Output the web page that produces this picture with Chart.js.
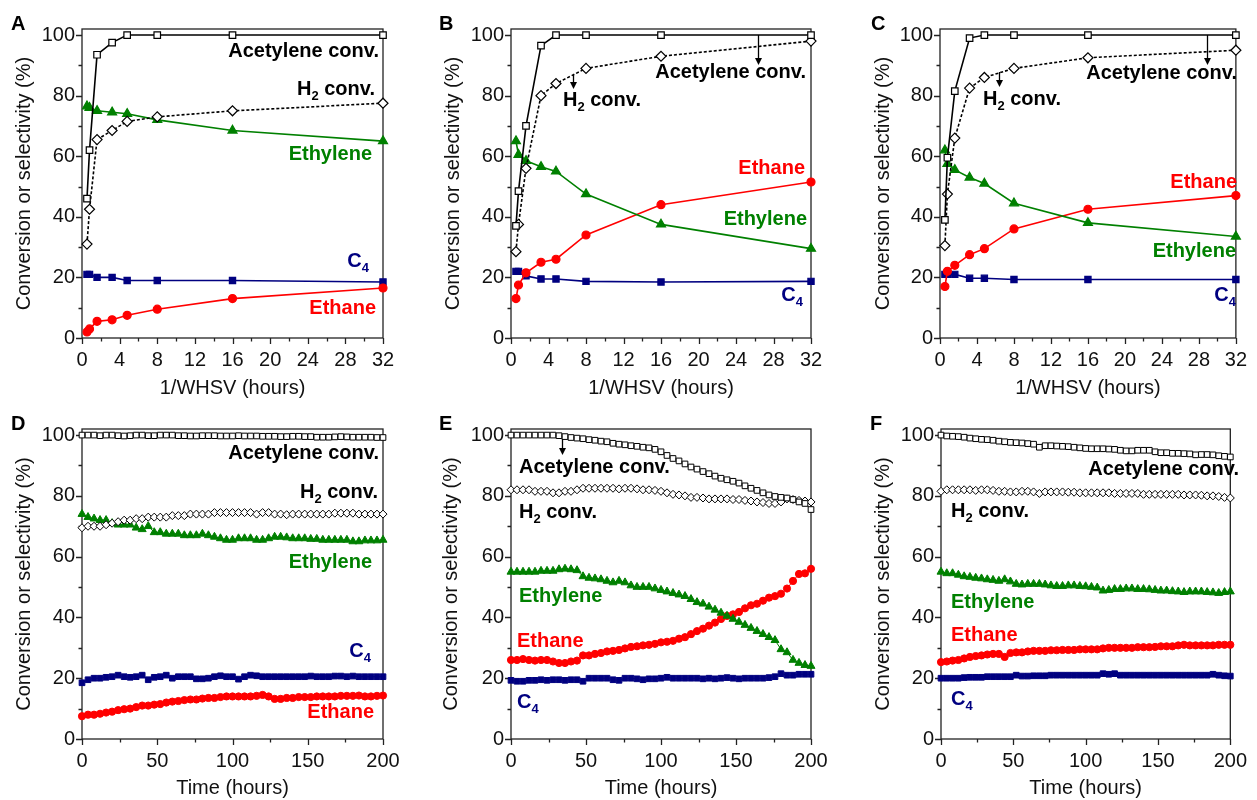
<!DOCTYPE html>
<html>
<head>
<meta charset="utf-8">
<script src="https://cdn.jsdelivr.net/npm/chart.js@4.4.1/dist/chart.umd.min.js"></script>
<style>
  body { margin: 0; background: #fff; width: 1257px; height: 800px; position: relative; overflow: hidden; }
  canvas { position: absolute; }
</style>
</head>
<body>
<canvas id="pA" width="420" height="400" style="left:0;top:0"></canvas>
<canvas id="pB" width="420" height="400" style="left:420px;top:0"></canvas>
<canvas id="pC" width="417" height="400" style="left:840px;top:0"></canvas>
<canvas id="pD" width="420" height="400" style="left:0;top:400px"></canvas>
<canvas id="pE" width="420" height="400" style="left:420px;top:400px"></canvas>
<canvas id="pF" width="417" height="400" style="left:840px;top:400px"></canvas>
<script>
// ---- data: 1/WHSV series (panels A-C)
const whsv = [0.53, 0.8, 1.6, 3.2, 4.8, 8, 16, 32];

const acetA = [46, 62, 93.5, 97.5, 100, 100, 100, 100];
const h2A = [31, 42.5, 65.5, 68.5, 71.5, 73, 75, 77.5];
const ethyA = [76.5, 76, 75, 74.5, 74, 72, 68.5, 65];
const ethaA = [2, 3, 5.5, 6, 7.5, 9.5, 13, 16.5];
const c4A = [21, 21, 20, 20, 19, 19, 19, 18.5];

const acetB = [37, 48.5, 70, 96.5, 100, 100, 100, 100];
const h2B = [28.5, 37.5, 56, 80, 84, 89, 93, 98];
const ethyB = [65, 60.5, 58.5, 56.5, 55, 47.5, 37.5, 29.5];
const ethaB = [13, 17.5, 21.5, 25, 26, 34, 44, 51.5];
const c4B = [22, 22, 20.5, 19.5, 19.5, 18.7, 18.5, 18.7];

const acetC = [39, 59.5, 81.5, 99, 100, 100, 100, 100];
const h2C = [30.5, 47.5, 66, 82.5, 86, 89, 92.5, 95];
const ethyC = [62, 57.5, 55.5, 53, 51, 44.5, 38, 33.5];
const ethaC = [17, 22, 24, 27.5, 29.5, 36, 42.5, 47];
const c4C = [21, 21, 21, 19.7, 19.7, 19.3, 19.3, 19.3];

// ---- data: time on stream (panels D-F), hours
const hours = [0, 4, 8, 12, 16, 20, 24, 28, 32, 36,
  40, 44, 48, 52, 56, 60, 64, 68, 72, 76,
  80, 84, 88, 92, 96, 100, 104, 108, 112, 116,
  120, 124, 128, 132, 136, 140, 144, 148, 152, 156,
  160, 164, 168, 172, 176, 180, 184, 188, 192, 196, 200];

const acetD = [100, 100, 100, 99.8, 100, 100, 99.8, 99.7, 99.8, 100,
  100, 99.8, 99.8, 100, 100, 100, 99.8, 99.8, 99.7, 99.7,
  99.8, 99.8, 99.8, 99.7, 99.7, 99.7, 99.8, 99.7, 99.7, 99.7,
  99.6, 99.6, 99.6, 99.5, 99.5, 99.6, 99.6, 99.5, 99.5, 99.3,
  99.3, 99.3, 99.4, 99.5, 99.4, 99.3, 99.3, 99.3, 99.3, 99.2, 99.2];
const h2D = [69.5, 70, 70, 70, 70.5, 71, 71.5, 72, 72, 72.5,
  72.5, 73, 73, 73, 73, 73.5, 73.5, 73.5, 74, 74,
  74, 74, 74.5, 74.5, 74.5, 74.5, 74.5, 74.5, 74.5, 74,
  74.5, 74.5, 74, 74, 73.8, 74, 74, 74, 74, 74,
  74, 74, 74.3, 74.3, 74.3, 74.3, 74, 74, 74, 74, 74];
const ethyD = [74, 73, 72.5, 72, 72, 71, 70.5, 70.5, 70.5, 69.5,
  69, 70, 68, 68, 67.5, 67.5, 67.5, 67, 67, 67,
  67.5, 67, 66.5, 66, 65.5, 65.5, 66, 66, 66, 65.5,
  65.5, 66, 66.5, 66.5, 66.3, 66, 66, 66, 65.8, 65.8,
  65.5, 65.5, 65.5, 65.5, 65.5, 65, 65, 65.3, 65.3, 65.3, 65.5];
const ethaD = [7.5, 8, 8, 8.3, 8.7, 9, 9.5, 9.8, 10, 10.5,
  11, 11, 11.3, 11.5, 12, 12.3, 12.5, 12.8, 13, 13,
  13.3, 13.5, 13.5, 13.8, 14, 14, 14, 14, 14, 14.2,
  14.5, 14, 13.2, 13.2, 13.5, 13.5, 13.8, 13.8, 13.8, 14,
  14, 14, 14, 14.2, 14.2, 14.2, 14.3, 14, 14, 14.2, 14.3];
const c4D = [18.5, 19.5, 20, 20, 20.3, 20.5, 21, 20.5, 20.3, 20.5,
  21, 19.5, 20.3, 20.5, 21, 20, 20.5, 20.5, 20.5, 19.8,
  19.8, 20, 20.5, 20.8, 20.5, 20.5, 19.7, 20.5, 21, 20.8,
  20.5, 20.5, 20.5, 20.5, 20.5, 20.5, 20.5, 20.5, 20.7, 20.5,
  20.5, 20.5, 20.7, 20.7, 20.5, 20.7, 20.5, 20.5, 20.5, 20.5, 20.5];

const acetE = [100, 100, 100, 100, 100, 100, 100, 100, 99.8, 99.5,
  99.2, 99, 98.8, 98.5, 98.3, 98, 97.8, 97.3, 97, 96.8,
  96.5, 96.3, 96, 95.8, 95.3, 94.5, 93.3, 92.3, 91.5, 90.5,
  89.5, 88.8, 88, 87.3, 86.5, 85.8, 85.3, 84.8, 84.2, 83.3,
  82.5, 81.8, 81, 80.3, 79.8, 79.5, 79.3, 78.8, 78, 77.5, 75.5];
const h2E = [82, 82, 82, 82, 81.5, 81.5, 81.5, 81, 81, 81.5,
  81.5, 82, 82.5, 82.5, 82.5, 82.5, 82.5, 82.5, 82.3, 82.5,
  82.5, 82.3, 82, 82, 81.8, 81.5, 81, 80.5, 80.3, 80,
  79.5, 79.5, 79.3, 79, 79, 79, 79, 78.8, 78.8, 78.5,
  78.3, 78, 77.8, 77.5, 77.5, 78, 79, 78.8, 78.5, 78.3, 78];
const ethyE = [55, 55, 55, 55, 55, 55.3, 55.3, 55.3, 55.8, 56,
  55.8, 55.5, 53.5, 53, 52.8, 52.5, 52, 51.5, 52, 51.5,
  50.5, 50, 50, 50, 49.5, 49, 48.5, 48, 47.5, 47,
  46, 45, 44.5, 43.5, 42.5, 41.5, 40.5, 39.5, 38.5, 37.5,
  36.5, 35.5, 34.5, 33.5, 32.5, 29.5, 28.5, 26, 25, 24.3, 24];
const ethaE = [26, 26, 26.3, 26, 25.8, 26, 26, 25.5, 25, 25,
  25.5, 25.8, 27.5, 27.5, 28, 28.3, 28.8, 29, 29.3, 29.8,
  30.3, 30.5, 30.8, 31, 31.3, 31.8, 32, 32.3, 33, 33.5,
  34.5, 35.5, 36.3, 37.3, 38.3, 39.5, 40.5, 41, 41.8, 43,
  44, 44.5, 45.5, 46.5, 47, 47.8, 49.5, 52, 54.3, 54.5, 56];
const c4E = [19.3, 19, 19, 19.3, 19.3, 19.5, 19.3, 19.5, 19.5, 19.3,
  19.5, 19.5, 19, 20, 20, 20, 20, 19.5, 19.3, 20,
  20, 19.8, 19.5, 19.8, 19.8, 20, 20.3, 20, 20, 20,
  20, 20, 19.8, 20, 19.8, 20, 20.2, 20, 19.8, 20,
  20, 20, 20, 20.2, 20.5, 21.5, 21, 21, 21.3, 21.3, 21.3];

const acetF = [100, 99.7, 99.6, 99.5, 99.3, 99, 98.8, 98.6, 98.5, 98.3,
  98, 97.8, 97.6, 97.5, 97.4, 97.2, 97, 96, 96.5, 96.5,
  96.4, 96.3, 96.2, 96, 95.8, 95.6, 95.5, 95.5, 95.5, 95.4,
  95.3, 95, 94.8, 94.8, 95, 95, 95, 94.5, 94.2, 94.2,
  94, 94, 93.9, 93.8, 93.5, 93.6, 93.6, 93.5, 93.2, 93, 92.8];
const h2F = [81.5, 82, 82, 82, 82, 82, 81.8, 82, 82, 81.8,
  81.5, 81.5, 81.3, 81.3, 81.5, 81.5, 81.3, 80.8, 81.3, 81.3,
  81.3, 81.3, 81.2, 81.2, 81, 81, 81, 81, 81, 81,
  80.8, 80.8, 80.8, 80.8, 80.8, 80.5, 80.5, 80.5, 80.5, 80.5,
  80.5, 80.5, 80.3, 80.3, 80.3, 80.2, 80, 80, 79.8, 79.5, 79.3];
const ethyF = [55, 54.5, 54.5, 54, 53.5, 53.3, 53, 52.8, 52.5, 52.3,
  52, 52.5, 51.8, 51, 50.8, 51, 51, 51, 50.8, 50.5,
  50.3, 50.3, 50.5, 50.5, 50.3, 50.2, 50, 49.8, 48.8, 49,
  49.3, 49.3, 49.5, 49.5, 49.3, 49.3, 49.2, 49, 48.8, 48.8,
  48.6, 48.5, 48.3, 48.5, 48.5, 48.5, 48.3, 48.2, 48, 48.3, 48.5];
const ethaF = [25.3, 25.5, 25.8, 26, 26.5, 27, 27.3, 27.5, 27.8, 28,
  28, 27, 28.3, 28.5, 28.5, 28.8, 29, 29, 29, 29.2,
  29.2, 29.3, 29.3, 29.3, 29.5, 29.5, 29.5, 29.5, 29.8, 30,
  30, 30, 30, 30, 30.2, 30.2, 30.2, 30.3, 30.5, 30.5,
  30.5, 30.8, 31, 30.8, 30.8, 30.8, 30.8, 30.8, 31, 31, 31];
const c4F = [20, 20, 20, 20, 20.2, 20.3, 20.3, 20.3, 20.5, 20.5,
  20.5, 20.5, 20.5, 21, 20.7, 20.7, 20.8, 20.8, 20.8, 21,
  21, 21, 21, 21, 21, 21, 21, 21, 21.5, 21.3,
  21.5, 21, 21, 21, 21, 21, 21, 21, 21, 21,
  21, 21, 21, 21, 21, 21, 21, 21.3, 21, 20.8, 20.7];

const yTicks = [0, 10, 20, 30, 40, 50, 60, 70, 80, 90, 100];
const whsvTicks = [0, 2, 4, 6, 8, 10, 12, 14, 16, 18, 20, 22, 24, 26, 28, 30, 32];
const hourTicks = [0, 25, 50, 75, 100, 125, 150, 175, 200];

const GREEN = '#008000', RED = '#ff0000', NAVY = '#000080', INK = '#111';
const FONT = '"Liberation Sans", Arial, sans-serif';

// marker styles per species; size differs between top and bottom rows
function style(kind, dense) {
  const base = { borderWidth: dense ? 1 : 1.6, pointBorderWidth: dense ? 1 : 1.2, clip: false, tension: 0 };
  if (kind === 'acet') return Object.assign(base, { borderColor: '#000', pointStyle: 'rect', pointRadius: dense ? 4 : 4.6, pointBackgroundColor: '#fff', pointBorderColor: '#000' });
  if (kind === 'h2') return Object.assign(base, { borderColor: '#000', borderDash: [3, 2], pointStyle: 'rectRot', pointRadius: dense ? 4 : 5, pointBackgroundColor: '#fff', pointBorderColor: '#000' });
  if (kind === 'ethy') return Object.assign(base, { borderColor: GREEN, pointStyle: 'triangle', pointRadius: dense ? 4.6 : 5.2, pointBackgroundColor: GREEN, pointBorderColor: GREEN });
  if (kind === 'etha') return Object.assign(base, { borderColor: RED, pointStyle: 'circle', pointRadius: dense ? 3.6 : 4, pointBackgroundColor: RED, pointBorderColor: RED });
  return Object.assign(base, { borderColor: NAVY, pointStyle: 'rect', pointRadius: dense ? 4 : 4.4, pointBackgroundColor: NAVY, pointBorderColor: NAVY });
}

function drawRich(ctx, s, x, y, align, color) {
  const parts = s.split(/(_.)/).filter(p => p).map(p => (p[0] === '_' && p.length === 2) ? { t: p[1], sub: true } : { t: p, sub: false });
  let w = 0;
  parts.forEach(p => { ctx.font = (p.sub ? 'bold 13px ' : 'bold 20px ') + FONT; p.w = ctx.measureText(p.t).width; w += p.w; });
  let cx = align === 'right' ? x - w : x;
  ctx.fillStyle = color;
  ctx.textAlign = 'left';
  ctx.textBaseline = 'middle';
  parts.forEach(p => {
    ctx.font = (p.sub ? 'bold 13px ' : 'bold 20px ') + FONT;
    ctx.fillText(p.t, cx, p.sub ? y + 7 : y);
    cx += p.w;
  });
}

// frame, tick marks, panel letter, text labels, arrows
const decor = {
  id: 'decor',
  beforeDatasetsDraw(chart) {
    const { ctx, chartArea: a, scales } = chart;
    ctx.save();
    ctx.strokeStyle = '#222';
    ctx.lineWidth = 1.3;
    ctx.strokeRect(a.left, a.top, a.right - a.left, a.bottom - a.top);
    ctx.beginPath();
    scales.y.ticks.forEach(t => {
      const py = Math.round(scales.y.getPixelForValue(t.value)) + 0.5;
      const len = t.value % 20 === 0 ? 6 : 3.5;
      ctx.moveTo(a.left - len, py); ctx.lineTo(a.left, py);
    });
    const major = chart.options.plugins.decor.major;
    scales.x.ticks.forEach(t => {
      const px = Math.round(scales.x.getPixelForValue(t.value)) + 0.5;
      const len = t.value % major === 0 ? 6 : 3.5;
      ctx.moveTo(px, a.bottom); ctx.lineTo(px, a.bottom + len);
    });
    ctx.stroke();
    ctx.restore();
  },
  afterDraw(chart) {
    const o = chart.options.plugins.decor;
    const ctx = chart.ctx;
    ctx.save();
    ctx.fillStyle = '#000';
    ctx.font = 'bold 20px ' + FONT;
    ctx.textAlign = 'left';
    ctx.textBaseline = 'alphabetic';
    ctx.fillText(o.letter, o.lx, 30);
    o.notes.forEach(n => drawRich(ctx, n[0], n[1], n[2], n[3], n[4]));
    ctx.strokeStyle = '#000';
    ctx.fillStyle = '#000';
    ctx.lineWidth = 1.3;
    o.arrows.forEach(r => {
      ctx.beginPath(); ctx.moveTo(r[0] + 0.5, r[1]); ctx.lineTo(r[0] + 0.5, r[2] - 5); ctx.stroke();
      ctx.beginPath(); ctx.moveTo(r[0] - 3, r[2] - 7); ctx.lineTo(r[0] + 4, r[2] - 7); ctx.lineTo(r[0] + 0.5, r[2]); ctx.closePath(); ctx.fill();
    });
    ctx.restore();
  }
};

function makePanel(p) {
  const dense = p.xs === hours;
  const kinds = ['acet', 'h2', 'ethy', 'etha', 'c4'];
  const datasets = p.series.map((vals, i) => Object.assign({
    label: kinds[i],
    data: p.xs.map((x, j) => ({ x: x, y: vals[j] }))
  }, style(kinds[i], dense)));
  const xt = dense ? hourTicks : whsvTicks;
  const major = dense ? 50 : 4;
  new Chart(document.getElementById(p.id), {
    type: 'line',
    data: { datasets },
    plugins: [decor],
    options: {
      responsive: false,
      animation: false,
      events: [],
      layout: { padding: { left: 0, right: p.R, top: 29, bottom: 0 } },
      plugins: {
        legend: { display: false },
        tooltip: { enabled: false },
        decor: { letter: p.letter, lx: p.lx, notes: p.notes, arrows: p.arrows, major: major }
      },
      scales: {
        x: {
          type: 'linear', min: 0, max: dense ? 200 : 32,
          afterBuildTicks: s => { s.ticks = xt.map(v => ({ value: v })); },
          afterFit: s => { s.height = 400 - p.bottom; },
          grid: { display: false, drawTicks: false },
          border: { display: false },
          ticks: { autoSkip: false, maxRotation: 0, padding: 10, color: INK, font: { family: FONT, size: 20 },
            callback: v => (v % major === 0 ? v : '') },
          title: { display: true, text: dense ? 'Time (hours)' : '1/WHSV (hours)', color: INK,
            font: { family: FONT, size: 20 }, padding: { top: 0, bottom: 0 } }
        },
        y: {
          type: 'linear', min: 0, max: 102,
          afterBuildTicks: s => { s.ticks = yTicks.map(v => ({ value: v })); },
          afterFit: s => { s.width = p.L; },
          grid: { display: false, drawTicks: false },
          border: { display: false },
          ticks: { autoSkip: false, padding: 7, color: INK, font: { family: FONT, size: 20 },
            callback: v => (v % 20 === 0 ? v : '') },
          title: { display: true, text: 'Conversion or selectivity (%)', color: INK,
            font: { family: FONT, size: 20 }, padding: { top: p.yt, bottom: 0 } }
        }
      }
    }
  });
}

const H2 = 'H_2 conv.', C4 = 'C_4';
makePanel({ id: 'pA', letter: 'A', lx: 11, xs: whsv, series: [acetA, h2A, ethyA, ethaA, c4A], L: 82, R: 37, bottom: 338, yt: 12,
  notes: [['Acetylene conv.', 379, 51, 'right', '#000'], [H2, 375, 89, 'right', '#000'], ['Ethylene', 372, 154, 'right', GREEN],
    [C4, 369, 261, 'right', NAVY], ['Ethane', 376, 308, 'right', RED]], arrows: [] });
makePanel({ id: 'pB', letter: 'B', lx: 19, xs: whsv, series: [acetB, h2B, ethyB, ethaB, c4B], L: 91, R: 29, bottom: 338, yt: 21,
  notes: [['Acetylene conv.', 386, 72, 'right', '#000'], [H2, 143, 100, 'left', '#000'], ['Ethane', 385, 168, 'right', RED],
    ['Ethylene', 387, 219, 'right', GREEN], [C4, 383, 295, 'right', NAVY]], arrows: [[338, 35, 65], [153, 75, 89]] });
makePanel({ id: 'pC', letter: 'C', lx: 31, xs: whsv, series: [acetC, h2C, ethyC, ethaC, c4C], L: 100, R: 17, bottom: 338, yt: 31,
  notes: [['Acetylene conv.', 397, 73, 'right', '#000'], [H2, 143, 99, 'left', '#000'], ['Ethane', 397, 182, 'right', RED],
    ['Ethylene', 396, 251, 'right', GREEN], [C4, 396, 295, 'right', NAVY]], arrows: [[367, 35, 65], [159, 72, 87]] });
makePanel({ id: 'pD', letter: 'D', lx: 11, xs: hours, series: [acetD, h2D, ethyD, ethaD, c4D], L: 82, R: 37, bottom: 339, yt: 12,
  notes: [['Acetylene conv.', 379, 53, 'right', '#000'], [H2, 378, 92, 'right', '#000'], ['Ethylene', 372, 162, 'right', GREEN],
    [C4, 371, 251, 'right', NAVY], ['Ethane', 374, 312, 'right', RED]], arrows: [] });
makePanel({ id: 'pE', letter: 'E', lx: 19, xs: hours, series: [acetE, h2E, ethyE, ethaE, c4E], L: 91, R: 29, bottom: 339, yt: 19,
  notes: [['Acetylene conv.', 99, 67, 'left', '#000'], [H2, 99, 112, 'left', '#000'], ['Ethylene', 99, 196, 'left', GREEN],
    ['Ethane', 97, 241, 'left', RED], [C4, 97, 302, 'left', NAVY]], arrows: [[142, 39, 55]] });
makePanel({ id: 'pF', letter: 'F', lx: 30, xs: hours, series: [acetF, h2F, ethyF, ethaF, c4F], L: 101, R: 16, bottom: 339, yt: 31,
  notes: [['Acetylene conv.', 399, 69, 'right', '#000'], [H2, 111, 111, 'left', '#000'], ['Ethylene', 111, 202, 'left', GREEN],
    ['Ethane', 111, 235, 'left', RED], [C4, 111, 299, 'left', NAVY]], arrows: [] });
</script>
</body>
</html>
